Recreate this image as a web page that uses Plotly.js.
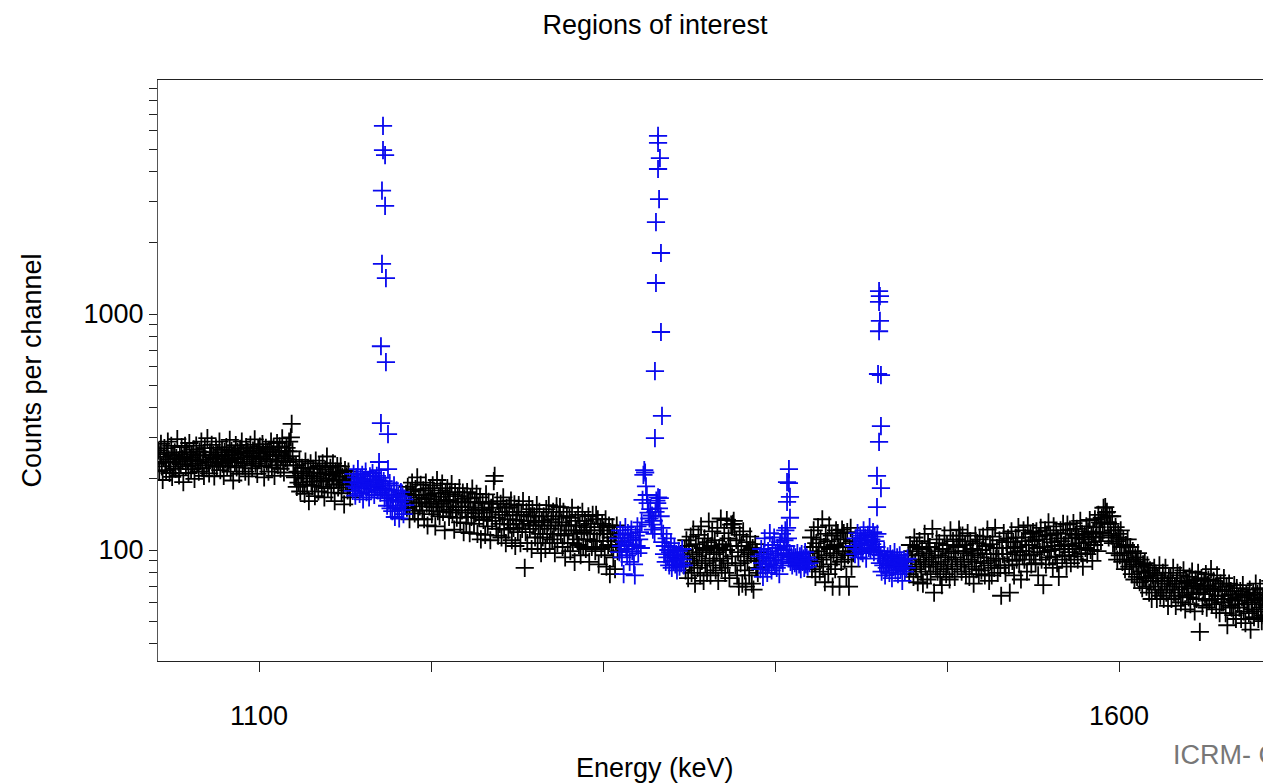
<!DOCTYPE html>
<html>
<head>
<meta charset="utf-8">
<script src="https://cdn.plot.ly/plotly-3.0.1.min.js"></script>
<style>
html,body{margin:0;padding:0;overflow:hidden;background:#fff;}
#chart{width:1320px;height:784px;}
</style>
</head>
<body>
<div id="chart"></div>
<script>
// Channel width of the spectrum (keV per channel)
const CHANNEL_KEV = 0.5;

// Background spectrum segments (black), start energies in keV
const BG_A_START = 1041;
const BG_A = [
232,264,216,254,282,226,198,248,270,236,
218,258,288,242,212,234,276,204,252,226,
259,221,245,295,237,207,253,231,273,243,
194,248,276,226,260,238,212,284,246,220,
255,229,267,200,241,277,233,251,215,261,
238,288,222,252,206,270,242,228,298,234,
211,259,247,279,229,253,205,245,271,225,
254,236,288,218,250,266,232,206,260,242,
273,227,251,239,293,215,263,245,197,255,
236,278,224,260,247,210,268,242,288,228,
257,233,215,273,247,261,205,251,279,237,
222,264,248,294,232,256,210,268,242,274,
245,227,281,259,203,250,271,237,261,215,
266,242,288,224,254,272,206,250,238,284,
229,259,275,221,251,297,239,213,263,245,
271,236,262,288,250,300,342,262,228,206,
203,229,185,215,193,241,177,211,223,189,
215,173,237,201,189,223,161,207,233,195,
187,221,205,169,239,195,213,177,227,201,
211,185,233,197,167,219,201,249,183,209,
197,223,175,207,233,189,161,215,199,227,
184,212,197,226,174,204,190,156,218,194,
205,179,215,189,167,201
];

const BG_B_START = 1185.5;
const BG_B = [
173,151,185,159,135,177,163,193,147,
171,143,181,159,203,135,167,153,189,159,
147,179,135,165,193,157,127,171,153,183,
164,142,188,152,174,126,160,198,146,168,
139,179,157,191,145,163,121,175,153,183,
162,138,172,148,190,144,160,122,176,152,
137,169,153,183,131,159,147,175,119,165,
152,130,176,144,160,118,166,138,182,148,
129,159,143,173,117,151,137,167,111,147,
158,134,148,116,172,138,126,160,144,110,
151,133,157,196,206,137,123,161,115,145,
129,157,113,141,167,123,145,107,151,135,
122,152,128,162,110,140,124,156,104,134,
145,119,155,129,107,141,123,161,133,84,
119,145,107,133,155,123,139,101,149,127,
139,113,131,155,107,127,145,117,97,133,
113,139,127,101,149,117,131,155,107,123,
135,111,145,117,97,131,153,107,127,139,
152,117,131,103,145,115,93,127,139,107,
121,137,99,127,151,107,117,89,133,121,
111,141,105,127,95,119,145,103,121,133,
101,125,111,139,89,117,129,103,141,109,
121,99,141,109,135,87,117,125,101,129,
109,121,95,135,85,117,105,127,79,113,
103,125,93,117,83,109,127,99
];

const BG_C_START = 1347.5;
const BG_C = [
100,82,110,92,76,
104,88,114,80,96,122,86,72,106,94,
84,116,98,78,126,90,102,74,112,88,
100,80,108,132,92,78,104,120,86,96,
110,82,98,124,74,102,90,136,84,106,
92,118,80,100,134,88,112,76,104,128,
94,129,133,124,86,110,78,98,70,116,
88,104,72,120,94,82,70,108,90,100,
78,114,96,72,102,68,92,106,84,98,
80,90
];

const BG_D_START = 1420.5;
const BG_D = [
97,113,83,103,121,89,77,107,93,
125,99,81,111,91,135,85,103,73,117,
95,109,79,127,101,87,115,70,97,105,
83,121,93,118,103,70,111,89,122,99,
118,91,107,77,119,95,70,103,124,85,
109,97
];

const BG_E_START = 1477.5;
const BG_E = [
95,79,105,85,91,
99,77,113,89,83,103,73,95,109,87,
81,101,72,91,117,85,97,75,107,89,
103,79,93,123,87,66,99,85,111,81,
95,107,77,89,71,101,83,115,93,79,
105,87,97,75,121,91,83,109,99,77,
93,111,85,103,122,115,89,81,115,97,
87,105,79,99,118,91,77,109,95,85,
101,72,89,115,83,107,97,79,111,93,
82,100,114,88,78,104,96,122,86,74,
106,90,78,114,96,84,124,92,102,80,
92,110,84,64,102,96,118,86,80,108,
96,112,86,66,102,120,90,108,78,98,
113,91,103,125,87,99,75,109,95,121,
91,113,99,81,127,105,95,117,87,109,
119,96,110,88,120,102,78,114,98,124,
91,111,71,103,121,87,115,99,131,93,
116,100,108,84,126,104,94,118,88,112,
77,101,121,109,91,129,105,95,117,85,
128,106,98,122,88,112,104,130,94,116,
101,123,91,113,107,133,97,117,85,111,
116,102,126,96,120,108,134,100,114,90,
119,105,135,113,125,99,141,117,131,109,
137,119,151,129,152,144,145,131,113,139,
129,115,139,107,121,97,125,109,91,117,
113,95,121,103,89,111,97,83,105,91,
111,97,85,103,91,79,99,87,75,93,
89,77,97,85,73,91,81,69,87,77,
88,76,70,86,80,66,82,74,62,78,
74,84,68,78,62,76,70,86,64,74,
68,80,62,74,84,66,72,58,76,68,
76,62,72,84,66,70,58,74,80,64,
68,78,60,72,64,82,70,56,74,66,
73,63,77,59,69,81,65,71,55,75,
62,72,80,66,45,70,76,58,68,74,
65,79,57,71,75,61,69,83,59,67,
74,62,68,56,78,64,70,54,72,60,
68,60,76,64,54,70,48,62,72,58,
67,57,65,53,71,61,51,69,59,63,
57,67,51,63,71,55,61,49,65,59,
64,54,68,46,60,56,66,52,62,72,
55,65,51,61,69,57,50,63,53,59,
68,52,58,64,50,56,74,60,54,62,
58
];

// Regions of interest (blue), start energies in keV
const ROI1_START = 1154;
const ROI1 = [
194,178,210,186,170,203,183,220,191,173,
200,182,208,164,196,188,215,176,198,185,
167,205,190,180,212,193,171,199,185,206,
179,197,188,175,202,182,
180,196,166,188,170,154,180,162,192,150,
172,146,167,188,138,163,179,152,170,136,
160,176,148,168,142,164,155
];

const ROI2_START = 1309;
const ROI2 = [
112,98,121,104,93,116,79,108,125,101,
95,118,106,89,113,122,99,110,87,78,
115,104,126,97,111,119,102,131,163,208,
218,213,186,171,158,144,136,149,128,140,
122,133,117,145,162,158,167,150,166,139,
124,108,117,96,104,89,112,93,100,86,
98,107,84,95,90,103,87,96,82,92,
99,85,94,88,101,91,86
];

const ROI3_START = 1391;
const ROI3 = [
94,83,101,88,77,96,112,85,92,80,
99,87,118,93,82,105,90,113,86,97,
84,102,95,79,108,91,117,88,100,110,
121,104,96,112,93,97,89,94,86,91,
95,88,93,85,97,90,87,94,83,96,
89,92,84,98,87,93,85,91,88
];

const ROI4_START = 1446;
const ROI4 = [
104,96,112,101,118,93,107,115,99,110,
97,121,105,113,92,108,116,102,125,100,
111,106,119,98,114,109,103,117,96,99,
88,95,81,92,86,99,78,90,84,94,
87,80,96,89,76,92,85,98,82,88,
93,79,87,95,83,90,74,86,91,81,
89,84,92
];

// Peak channels inside the regions of interest (several overlaid spectra)
const PEAK_KEV = [
1172.1,1172.1,1173.3,1171.5,1173.3,1171.5,1173.8,1170.9,1173.8,1170.9,1175.0,1169.8,1175.0,1169.8,
1332.0,1332.0,1333.1,1332.0,1332.6,1330.8,1333.7,1330.8,1333.7,1330.2,1334.3,1330.2,
1408.1,1407.0,1408.1,1408.7,1407.0,1408.7,1407.0,
1460.5,1461.0,1460.5,1461.0,1460.5,1459.9,1461.6,1461.6,1460.5,1459.3,1461.6,1459.3
];
const PEAK_COUNTS = [
6270,4950,4710,3330,2870,1630,1420,730,625,345,310,236,220,218,
5680,5310,4580,4115,3070,2450,1813,1353,839,573,370,298,
220,194,192,168,160,137,124,
1250,1190,1125,935,845,557,551,335,287,206,183,152
];

// Axis ticks
const X_TICKS = [1100,1200,1300,1400,1500,1600];
const X_TICK_LABELS = ['1100','','','','','1600'];
const Y_TICKS = [40,50,60,70,80,90,100,200,300,400,500,600,700,800,900,1000,2000,3000,4000,5000,6000,7000,8000,9000];
const Y_TICK_LABELS = Y_TICKS.map(v => (v === 100 || v === 1000) ? String(v) : '');

const FONT = 'Liberation Sans, Arial, sans-serif';
const FS = 27;
const BLACK = '#000000';
const BLUE = '#0a0aee';

function seg(start, ys, color) {
  return {
    type: 'scatter', mode: 'markers',
    x0: start, dx: CHANNEL_KEV, y: ys,
    marker: {symbol: 'cross-thin', size: 13, line: {color: color, width: 1.8}, color: color},
    showlegend: false
  };
}

const traces = [
  seg(BG_A_START, BG_A, BLACK),
  seg(BG_B_START, BG_B, BLACK),
  seg(BG_C_START, BG_C, BLACK),
  seg(BG_D_START, BG_D, BLACK),
  seg(BG_E_START, BG_E, BLACK),
  seg(ROI1_START, ROI1, BLUE),
  seg(ROI2_START, ROI2, BLUE),
  seg(ROI3_START, ROI3, BLUE),
  seg(ROI4_START, ROI4, BLUE),
  {
    type: 'scatter', mode: 'markers',
    x: PEAK_KEV, y: PEAK_COUNTS,
    marker: {symbol: 'cross-thin', size: 13, line: {color: BLUE, width: 1.8}, color: BLUE},
    showlegend: false
  }
];

const W = 1320, H = 784, ML = 158, MR = 30, MT = 80, MB = 123;
const PW = W - ML - MR, PH = H - MT - MB;

const layout = {
  width: W, height: H,
  margin: {l: ML, r: MR, t: MT, b: MB, pad: 0},
  paper_bgcolor: '#ffffff', plot_bgcolor: '#ffffff',
  font: {family: FONT, size: FS, color: '#000'},
  showlegend: false,
  title: {
    text: 'Regions of interest',
    font: {family: FONT, size: FS, color: '#000'},
    x: 655 / W, xref: 'container', xanchor: 'center',
    y: 1 - 25 / H, yref: 'container', yanchor: 'middle'
  },
  xaxis: {
    type: 'linear',
    range: [1041.28, 1041.28 + PW / 1.72],
    showgrid: false, zeroline: false,
    showline: true, linecolor: '#222', linewidth: 1, mirror: true,
    ticks: 'outside', ticklen: 10, tickcolor: '#222', tickwidth: 1,
    tickmode: 'array', tickvals: X_TICKS, ticktext: X_TICK_LABELS,
    ticklabelstandoff: 21,
    tickfont: {family: FONT, size: FS, color: '#000'}
  },
  yaxis: {
    type: 'log',
    range: [1.5297, 3.9915],
    showgrid: false, zeroline: false,
    showline: true, linecolor: '#555', linewidth: 1, mirror: true,
    ticks: 'outside', ticklen: 8, tickcolor: '#222', tickwidth: 1,
    tickmode: 'array', tickvals: Y_TICKS, ticktext: Y_TICK_LABELS,
    tickfont: {family: FONT, size: FS, color: '#000'},
    title: {text: 'Counts per channel', font: {family: FONT, size: FS, color: '#000'}, standoff: 34}
  },
  annotations: [
    {
      text: 'Energy (keV)', showarrow: false,
      xref: 'paper', yref: 'paper',
      x: (655 - ML) / PW, y: -(768 - (H - MB)) / PH,
      xanchor: 'center', yanchor: 'middle',
      font: {family: FONT, size: FS, color: '#000'}
    },
    {
      text: 'ICRM- C', showarrow: false,
      xref: 'paper', yref: 'paper',
      x: (1171 - ML) / PW, y: -(755 - (H - MB)) / PH,
      xanchor: 'left', yanchor: 'middle',
      font: {family: FONT, size: FS, color: '#777'}
    }
  ]
};

Plotly.newPlot('chart', traces, layout, {displayModeBar: false, staticPlot: true});
</script>
</body>
</html>
